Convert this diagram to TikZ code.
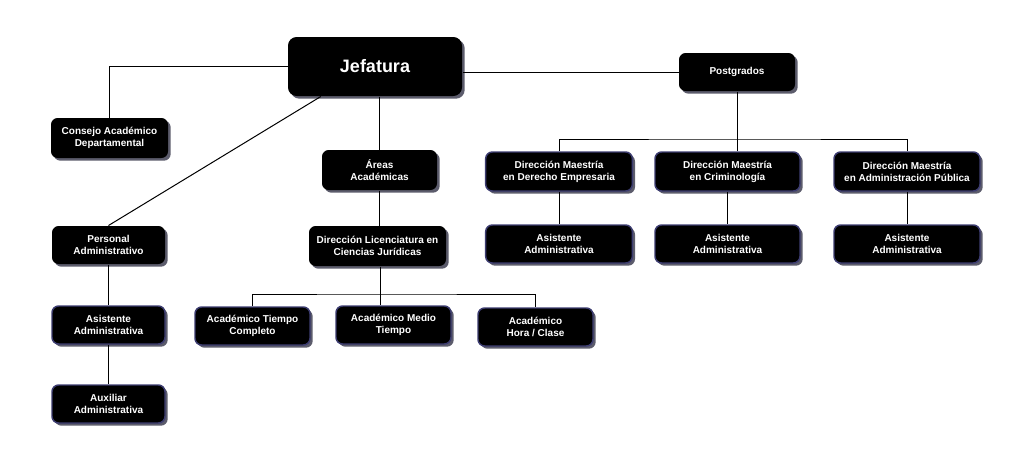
\documentclass[tikz,border=0pt]{standalone}
\usepackage{fontspec}
\setmainfont{Liberation Sans}
\usetikzlibrary{shadows}

\definecolor{borde}{RGB}{60,60,112}
\definecolor{sombra}{RGB}{92,92,108}

\tikzset{every picture/.style={line width=0.75pt}}
\tikzset{
  caja/.style={rectangle, rounded corners=5pt, fill=black, text=white, align=center, inner sep=1pt,
    font=\bfseries\fontsize{7.5}{9}\selectfont,
    drop shadow={shadow xshift=2pt, shadow yshift=-2pt, fill=sombra, opacity=1}},
  cajaazul/.style={caja, draw=borde, line width=1.1pt},
  linea/.style={line width=0.75pt, draw=black}
}

\begin{document}
\begin{tikzpicture}[x=0.75pt,y=0.75pt,yscale=-1,xscale=1]
\useasboundingbox (0,0) rectangle (1024,468);

%Shape: Rounded Rect [id:jefatura]
\node [caja, minimum width=130.5pt, minimum height=44.25pt, rounded corners=6.5pt, font=\bfseries\fontsize{13.5}{16}\selectfont] (jefatura) at (375,66.5) {Jefatura};
%Shape: Rounded Rect [id:consejo]
\node [caja, minimum width=87.75pt, minimum height=30pt] (consejo) at (109.5,138) {Consejo Académico\\Departamental};
%Shape: Rounded Rect [id:areas]
\node [caja, minimum width=86.25pt, minimum height=30pt] (areas) at (379.5,170) {Áreas\\Académicas};
%Shape: Rounded Rect [id:postgrados]
\node [caja, minimum width=87pt, minimum height=28.5pt] (postgrados) at (737,72) {Postgrados};

%Shape: Rounded Rect [id:maestrias]
\node [cajaazul, minimum width=110pt, minimum height=29.25pt] (derecho) at (559,171.5) {Dirección Maestría\\en Derecho Empresaria};
\node [cajaazul, minimum width=108.75pt, minimum height=29.25pt] (crim) at (727.5,171.5) {Dirección Maestría\\en Criminología};
\node [cajaazul, minimum width=109.5pt, minimum height=29.25pt] (adm) at (907,171.5) {Dirección Maestría\\en Administración Pública};

%Shape: Rounded Rect [id:asistentes postgrado]
\node [cajaazul, minimum width=110pt, minimum height=28.5pt] (asisderecho) at (559,244) {Asistente\\Administrativa};
\node [cajaazul, minimum width=108.75pt, minimum height=28.5pt] (asiscrim) at (727.5,244) {Asistente\\Administrativa};
\node [cajaazul, minimum width=109.5pt, minimum height=28.5pt] (asisadm) at (907,244) {Asistente\\Administrativa};

%Shape: Rounded Rect [id:personal]
\node [caja, minimum width=84.75pt, minimum height=28.5pt] (personal) at (108.5,245) {Personal\\Administrativo};
\node [cajaazul, minimum width=84.75pt, minimum height=28.5pt] (asistente) at (108.5,325) {Asistente\\Administrativa};
\node [cajaazul, minimum width=84.75pt, minimum height=28.5pt] (auxiliar) at (108.5,404) {Auxiliar\\Administrativa};

%Shape: Rounded Rect [id:licenciatura]
\node [caja, minimum width=102.75pt, minimum height=30pt] (licenciatura) at (377.5,246) {Dirección Licenciatura en\\Ciencias Jurídicas};
\node [cajaazul, minimum width=86.25pt, minimum height=28.5pt] (completo) at (252.5,326) {Académico Tiempo\\Completo};
\node [cajaazul, minimum width=86.25pt, minimum height=28.5pt] (medio) at (393.5,325) {Académico Medio\\Tiempo};
\node [cajaazul, minimum width=86.25pt, minimum height=28.5pt] (hora) at (535.5,327) {Académico\\Hora / Clase};

%Straight Lines
\coordinate (busP) at (736,139);
\coordinate (busL) at (380,294);
\draw [linea] (jefatura.west) -| (consejo.north);
\draw [linea] ([xshift=25pt]jefatura.south west) -- (personal.north);
\draw [linea] (jefatura.south -| areas.north) -- (areas.north);
\draw [linea] (jefatura.east |- postgrados.west) -- (postgrados.west);
\draw [linea] (areas.south) -- (areas.south |- licenciatura.north);
\draw [linea] (postgrados.south) -- (postgrados.south |- crim.north);
\draw [linea] (derecho.north) |- (busP) -| (adm.north);
\draw [linea] (derecho.south) -- (asisderecho.north);
\draw [linea] (crim.south) -- (asiscrim.north);
\draw [linea] (adm.south) -- (asisadm.north);
\draw [linea] (personal.south) -- (asistente.north);
\draw [linea] (asistente.south) -- (auxiliar.north);
\draw [linea] (licenciatura.south -| busL) -- (busL |- medio.north);
\draw [linea] (completo.north) |- (busL) -| (hora.north);

\end{tikzpicture}
\end{document}
